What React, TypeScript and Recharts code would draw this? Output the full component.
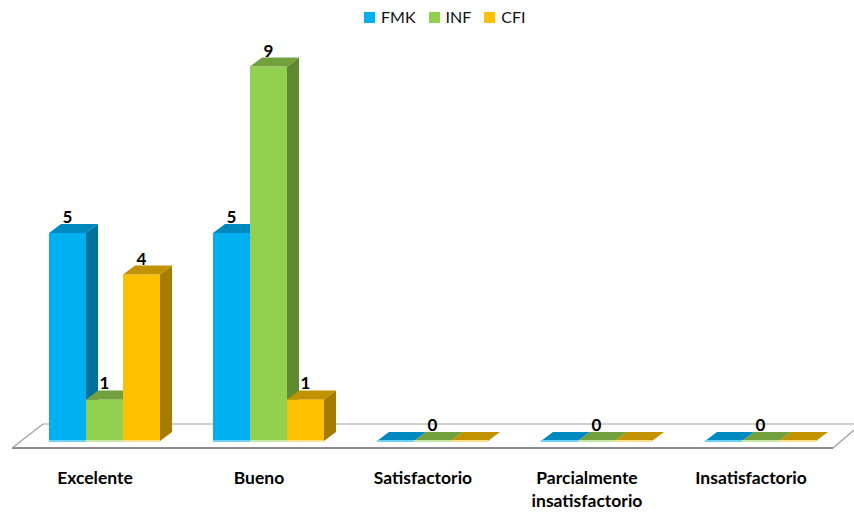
import { BarChart, Bar, XAxis, YAxis, LabelList } from 'recharts'

const categories = ['Excelente', 'Bueno', 'Satisfactorio', 'Parcialmente insatisfactorio', 'Insatisfactorio']
const fmk = [5, 5, 0, 0, 0]
const inf = [1, 9, 0, 0, 0]
const cfi = [4, 1, 0, 0, 0]

const series = [
  { key: 'FMK', values: fmk, front: '#00b0f0', top: '#0089bf', side: '#00719c', base: '#6fd3f8', zeroLabel: false },
  { key: 'INF', values: inf, front: '#92d050', top: '#71a03d', side: '#5e8a31', base: '#c8e8a8', zeroLabel: true },
  { key: 'CFI', values: cfi, front: '#ffc000', top: '#c29200', side: '#a67c00', base: '#ffe08a', zeroLabel: false },
]

const chartData = categories.map((name, i) => ({
  name,
  FMK: fmk[i],
  INF: inf[i],
  CFI: cfi[i],
}))

const DX = 12
const DY = 9
const FONT = 'Lato, "Liberation Sans", sans-serif'

function Bar3D(props: any) {
  const { x, y, width, height, colors } = props
  if (x == null || width == null) return null
  const h = Math.max(0, height || 0)
  const bottom = y + h
  const top = bottom - h
  const topFace = `M${x},${top} L${x + width},${top} L${x + width + DX},${top - DY} L${x + DX},${top - DY} Z`
  const sideFace = `M${x + width},${top} L${x + width + DX},${top - DY} L${x + width + DX},${bottom - DY} L${x + width},${bottom} Z`
  return (
    <g>
      {h > 0 && <path d={sideFace} fill={colors.side} />}
      {h > 0 && <rect x={x} y={top} width={width} height={h} fill={colors.front} />}
      <path d={topFace} fill={colors.top} />
      <rect x={x} y={bottom - 1} width={width} height={2} fill={colors.base} />
    </g>
  )
}

function ValueLabel(props: any) {
  const { x, y, width, value, showZero } = props
  if (value === 0 && !showZero) return null
  return (
    <text
      x={x + width / 2}
      y={y - DY - 1}
      textAnchor="middle"
      fontFamily={FONT}
      fontWeight={700}
      fontSize={17}
      fill="#000"
    >
      {value}
    </text>
  )
}

function CategoryTick(props: any) {
  const { x, payload } = props
  const text: string = payload.value
  const lines = text.includes(' ') ? text.split(' ') : [text]
  return (
    <text
      x={x - 9}
      y={484}
      textAnchor="middle"
      fontFamily={FONT}
      fontWeight={700}
      fontSize={17.5}
      fill="#000"
    >
      {lines.map((l, i) => (
        <tspan key={i} x={x - 9} dy={i === 0 ? 0 : 23}>
          {l}
        </tspan>
      ))}
    </text>
  )
}

export default function App() {
  return (
    <div style={{ position: 'absolute', left: 0, top: 0, width: 854, height: 515, background: '#fff' }}>
      <svg width={854} height={515} style={{ position: 'absolute', left: 0, top: 0 }}>
        <line x1={43} y1={424} x2={854} y2={424} stroke="#c0c0c0" strokeWidth={1.5} />
        <line x1={12} y1={448} x2={833} y2={448} stroke="#8c8c8c" strokeWidth={2} />
        <line x1={12} y1={448} x2={43} y2={424} stroke="#a6a6a6" strokeWidth={1.5} />
        <line x1={833} y1={448} x2={854} y2={430} stroke="#a6a6a6" strokeWidth={1.5} />
      </svg>
      <div
        style={{
          position: 'absolute',
          top: 7,
          left: 364,
          display: 'flex',
          fontFamily: FONT,
          fontSize: 16,
          lineHeight: '20px',
          color: '#111',
        }}
      >
        {series.map((s) => (
          <div key={s.key} style={{ display: 'flex', alignItems: 'center', marginRight: 13 }}>
            <span style={{ width: 11, height: 11, background: s.front, display: 'inline-block', marginRight: 6 }} />
            <span>{s.key}</span>
          </div>
        ))}
      </div>
      <div style={{ position: 'absolute', left: 0, top: 0 }}>
        <BarChart
          width={854}
          height={515}
          data={chartData}
          margin={{ top: 25, right: 12, bottom: 14, left: 22 }}
          barCategoryGap={27}
          barGap={0}
        >
          <XAxis
            dataKey="name"
            axisLine={false}
            tickLine={false}
            interval={0}
            height={60}
            tick={<CategoryTick />}
          />
          <YAxis hide domain={[0, 10]} />
          {series.map((s) => (
            <Bar
              key={s.key}
              dataKey={s.key}
              isAnimationActive={false}
              shape={(p: any) => <Bar3D {...p} colors={s} />}
            >
              <LabelList dataKey={s.key} content={<ValueLabel showZero={s.zeroLabel} />} />
            </Bar>
          ))}
        </BarChart>
      </div>
    </div>
  )
}
